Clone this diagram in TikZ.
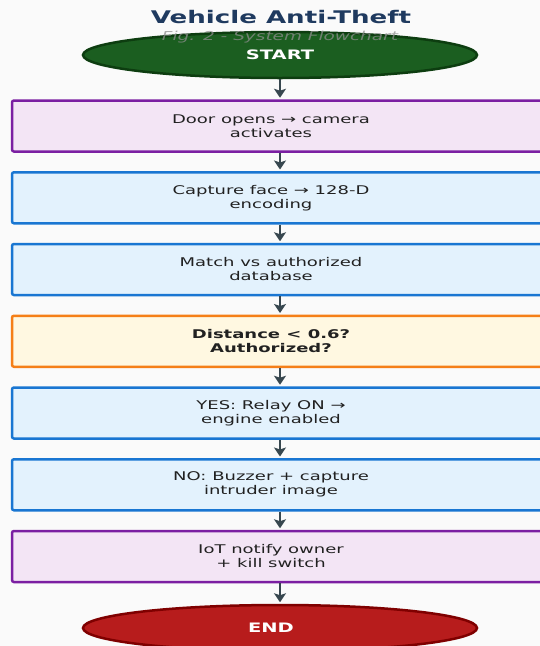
\documentclass[tikz,border=0pt]{standalone}
\usepackage{fontspec}
\setmainfont{DejaVu Sans}
\newfontfamily\df[FakeStretch=1.5]{DejaVu Sans}
\usetikzlibrary{shapes.geometric,arrows.meta}
\definecolor{bgc}{HTML}{FAFAFA}
\definecolor{titlec}{HTML}{1F3A5F}
\definecolor{subc}{HTML}{8E8E8E}
\definecolor{txtc}{HTML}{212121}
\definecolor{arrc}{HTML}{37474F}
\definecolor{purf}{HTML}{F3E5F5}
\definecolor{purd}{HTML}{7B1FA2}
\definecolor{bluf}{HTML}{E3F2FD}
\definecolor{blud}{HTML}{1976D2}
\definecolor{orf}{HTML}{FFF8E1}
\definecolor{ord}{HTML}{F57F17}
\definecolor{grf}{HTML}{1B5E20}
\definecolor{grd}{HTML}{0D3D10}
\definecolor{ref}{HTML}{B71C1C}
\definecolor{red}{HTML}{7F0000}
\tikzset{
  stepbox/.style={draw, rounded corners=2pt, line width=2.5pt, minimum width=536pt,
    minimum height=51pt, inner sep=0pt},
  purbox/.style={stepbox, fill=purf, draw=purd},
  blubox/.style={stepbox, fill=bluf, draw=blud},
  orbox/.style={stepbox, fill=orf, draw=ord},
  lbl/.style={align=center, text=txtc, inner sep=0pt, font=\df\fontsize{12}{14}\selectfont},
  blbl/.style={lbl, font=\df\bfseries\fontsize{12}{14}\selectfont},
  term/.style={ellipse, line width=2.5pt, minimum width=394pt, minimum height=46pt, inner sep=0pt},
  tlbl/.style={text=white, inner sep=0pt, font=\df\bfseries\fontsize{13}{15}\selectfont},
  arr/.style={-{Stealth[length=9pt,width=12pt,inset=2pt]}, line width=2.6pt, draw=arrc, shorten >=1.5pt}
}
\begin{document}
\begin{tikzpicture}[x=1pt,y=-1pt]
\fill[bgc] (0,0) rectangle (540,646);
\useasboundingbox (0,0) rectangle (540,646);
\clip (0,0) rectangle (540,646);
\node[font=\df\bfseries\fontsize{17.4}{20}\selectfont, text=titlec] (title) at (281,17) {Vehicle Anti-Theft};
\node[term, fill=grf, draw=grd] (start) at (280,55) {};
\node[tlbl] (tstart) at (280,55) {START};
\node[font=\df\itshape\fontsize{12.3}{14}\selectfont, text=subc, opacity=0.75] (sub) at (280,37) {Fig. 2 - System Flowchart};
\node[purbox] (b1) at (280,126) {};
\node[lbl] (t1) at (271,126) {Door opens → camera\\activates};
\node[blubox] (b2) at (280,197.75) {};
\node[lbl] (t2) at (271,197.75) {Capture face → 128-D\\encoding};
\node[blubox] (b3) at (280,269.5) {};
\node[lbl] (t3) at (271,269.5) {Match vs authorized\\database};
\node[orbox] (b4) at (280,341.25) {};
\node[blbl] (t4) at (271,341.25) {Distance < 0.6?\\Authorized?};
\node[blubox] (b5) at (280,413) {};
\node[lbl] (t5) at (271,413) {YES: Relay ON →\\engine enabled};
\node[blubox] (b6) at (280,484.75) {};
\node[lbl] (t6) at (271,484.75) {NO: Buzzer + capture\\intruder image};
\node[purbox] (b7) at (280,556.5) {};
\node[lbl] (t7) at (271,556.5) {IoT notify owner\\+ kill switch};
\node[term, fill=ref, draw=red] (end) at (280,628) {};
\node[tlbl] (tend) at (271,628) {END};
\draw[arr] (start.south) -- (b1.north);
\draw[arr] (b1.south) -- (b2.north);
\draw[arr] (b2.south) -- (b3.north);
\draw[arr] (b3.south) -- (b4.north);
\draw[arr] (b4.south) -- (b5.north);
\draw[arr] (b5.south) -- (b6.north);
\draw[arr] (b6.south) -- (b7.north);
\draw[arr] (b7.south) -- (end.north);
\end{tikzpicture}
\end{document}
